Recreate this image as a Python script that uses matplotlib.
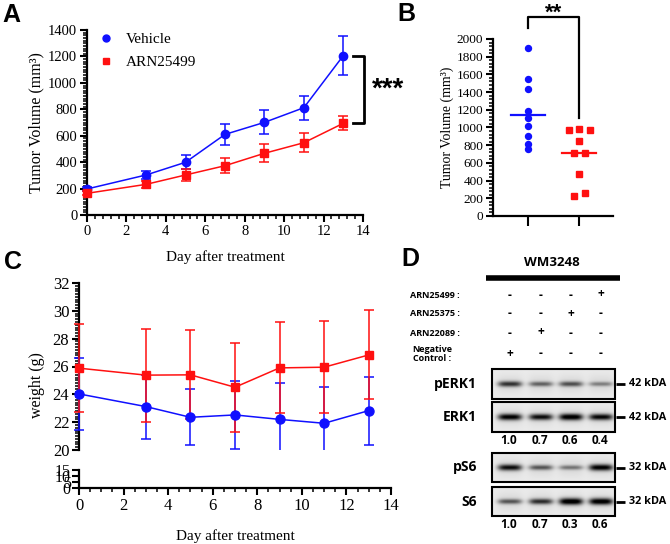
import numpy as np
import matplotlib
matplotlib.use("Agg")
import matplotlib.pyplot as plt
from matplotlib.ticker import MultipleLocator
from matplotlib.lines import Line2D
from matplotlib.patches import Rectangle

# ---- data ----
# A: tumour volume over time
days = [0, 3, 5, 7, 9, 11, 13]
vehicle_vol = [197, 303, 399, 610, 701, 812, 1206]
vehicle_vol_err = [12, 32, 53, 80, 90, 92, 145]
arn_vol = [164, 232, 303, 373, 467, 547, 694]
arn_vol_err = [15, 25, 45, 56, 67, 70, 53]

# B: end-point volume per mouse
vehicle_end = [1902, 1548, 1431, 1186, 1104, 1021, 904, 810, 753]
arn_end = [972, 979, 972, 847, 708, 708, 475, 230, 256]
arn_end_jitter = [-0.2, 0, 0.215, 0, -0.105, 0.11, 0, -0.105, 0.11]
group_centre = [1145, 708]

# C: body weight
vehicle_wt = [24.03, 23.12, 22.35, 22.52, 22.2, 21.92, 22.83]
vehicle_wt_err = [2.6, 2.3, 2.0, 2.45, 2.6, 2.6, 2.45]
arn_wt = [25.88, 25.38, 25.4, 24.51, 25.9, 25.95, 26.83]
arn_wt_err = [3.18, 3.35, 3.2, 3.2, 3.27, 3.3, 3.2]

# D: western blot
cell_line = "WM3248"
treat_rows = ["ARN25499 :", "ARN25375 :", "ARN22089 :", "Negative\nControl :"]
treat_signs = [["-", "-", "-", "+"],
               ["-", "-", "+", "-"],
               ["-", "+", "-", "-"],
               ["+", "-", "-", "-"]]
blot_names = ["pERK1", "ERK1", "pS6", "S6"]
blot_sizes = ["42 kDA", "42 kDA", "32 kDA", "32 kDA"]
perk_bands = [0.70, 0.50, 0.58, 0.38]
erk_bands = [0.92, 0.85, 0.97, 0.88]
ps6_bands = [0.85, 0.55, 0.42, 0.92]
s6_bands = [0.55, 0.72, 1.0, 0.97]
erk_ratio = ["1.0", "0.7", "0.6", "0.4"]
s6_ratio = ["1.0", "0.7", "0.3", "0.6"]

BLUE = "#1010ff"
RED = "#ff1010"
W, H = 670, 544

plt.rcParams['font.family'] = ['Liberation Serif', 'DejaVu Sans']


def px_rect(left, top, right, bottom):
    return [left / W, 1 - bottom / H, (right - left) / W, (bottom - top) / H]


def style_axis(ax, size):
    for side in ["top", "right"]:
        ax.spines[side].set_visible(False)
    for side in ["left", "bottom"]:
        ax.spines[side].set_linewidth(1.6)
    ax.tick_params(which="major", direction="out", length=5, width=1.5, labelsize=size, pad=2)
    ax.tick_params(which="minor", direction="out", length=3, width=1.1)


def errbars(ax, x, y, err, color, clip_rect=None):
    eb = ax.errorbar(x, y, yerr=err, fmt="none", ecolor=color, elinewidth=1.1,
                     capsize=3.5, capthick=1.1, clip_on=clip_rect is not None, zorder=3)
    if clip_rect is not None:
        for art in list(eb.lines[1]) + list(eb.lines[2]):
            art.set_clip_path(clip_rect)


fig = plt.figure(figsize=(W / 100, H / 100), dpi=100)

# overlay for letters and the blot
ov = fig.add_axes([0, 0, 1, 1])
ov.set_axis_off()

# ---- panel A ----
axA = fig.add_axes(px_rect(87, 30, 363, 215))
style_axis(axA, 10.5)
errbars(axA, days, vehicle_vol, vehicle_vol_err, BLUE)
errbars(axA, days, arn_vol, arn_vol_err, RED)
axA.plot(days, vehicle_vol, "-o", color=BLUE, ms=6, lw=1.1, clip_on=False, zorder=4)
axA.plot(days, arn_vol, "-s", color=RED, ms=5.5, lw=1.1, clip_on=False, zorder=4)
axA.set_xlim(0, 14)
axA.set_ylim(0, 1400)
axA.xaxis.set_major_locator(MultipleLocator(2))
axA.xaxis.set_minor_locator(MultipleLocator(0.4))
axA.yaxis.set_major_locator(MultipleLocator(200))
axA.yaxis.set_minor_locator(MultipleLocator(20))
axA.set_xlabel("Day after treatment", fontsize=11, labelpad=9)
axA.set_ylabel("Tumor Volume (mm³)", fontsize=11.5, labelpad=3)
handles = [Line2D([], [], marker="o", ls="none", color=BLUE, ms=5),
           Line2D([], [], marker="s", ls="none", color=RED, ms=5)]
axA.legend(handles, ["Vehicle", "ARN25499"], loc="upper left", bbox_to_anchor=(-0.015, 1.06),
           frameon=False, fontsize=11, handlelength=1.2, handletextpad=0.7, labelspacing=0.6)
axA.plot([13.5, 14.05, 14.05, 13.5], [vehicle_vol[-1], vehicle_vol[-1], arn_vol[-1], arn_vol[-1]],
         color="black", lw=2, clip_on=False)
axA.text(15.25, (vehicle_vol[-1] + arn_vol[-1]) / 2, "***", fontsize=20, fontweight="bold",
         family="Liberation Sans", ha="center", va="center")

# ---- panel B ----
axB = fig.add_axes(px_rect(493, 39, 613, 216))
style_axis(axB, 9.5)
axB.plot([1] * len(vehicle_end), vehicle_end, "o", color=BLUE, ms=4.3, clip_on=False)
axB.plot([2 + j for j in arn_end_jitter], arn_end, "s", color=RED, ms=4.3, clip_on=False)
axB.plot([0.66, 1.34], [group_centre[0]] * 2, color=BLUE, lw=1.6)
axB.plot([1.66, 2.34], [group_centre[1]] * 2, color=RED, lw=1.6)
axB.set_xlim(0.31, 2.67)
axB.set_ylim(0, 2000)
axB.set_xticks([1, 2])
axB.set_xticklabels([])
axB.tick_params(axis="x", length=7)
axB.yaxis.set_major_locator(MultipleLocator(200))
axB.yaxis.set_minor_locator(MultipleLocator(40))
axB.set_ylabel("Tumor Volume (mm³)", fontsize=10, labelpad=2)
axB.plot([1, 1, 2, 2], [2124, 2249, 2249, 1107], color="black", lw=1.6, clip_on=False)
axB.text(1.5, 2290, "**", fontsize=16, fontweight="bold", family="Liberation Sans",
         ha="center", va="center")

# ---- panel C (broken y axis) ----
axC = fig.add_axes(px_rect(79, 283, 391, 450))
axC2 = fig.add_axes(px_rect(79, 470, 391, 488))
for ax in (axC, axC2):
    style_axis(ax, 12)
axC.spines["bottom"].set_visible(False)
axC.tick_params(axis="x", which="both", bottom=False, labelbottom=False)
clip = Rectangle((-0.2, 0), 1.4, 1.3, transform=axC.transAxes)
errbars(axC, days, vehicle_wt, vehicle_wt_err, BLUE, clip)
errbars(axC, days, arn_wt, arn_wt_err, RED, clip)
axC.plot(days, arn_wt, "-s", color=RED, ms=6, lw=1.1, clip_on=False, zorder=4)
axC.plot(days, vehicle_wt, "-o", color=BLUE, ms=6.5, lw=1.1, clip_on=False, zorder=5)
axC.set_xlim(0, 14)
axC.set_ylim(20, 32)
axC.yaxis.set_major_locator(MultipleLocator(2))
axC.yaxis.set_minor_locator(MultipleLocator(0.2))
axC.set_ylabel("weight (g)", fontsize=11.5)
axC.yaxis.set_label_coords(-0.11, 0.39)
axC2.set_xlim(0, 14)
axC2.set_ylim(0, 15)
axC2.set_yticks([0, 5, 10, 15])
axC2.xaxis.set_major_locator(MultipleLocator(2))
axC2.xaxis.set_minor_locator(MultipleLocator(0.5))
axC2.set_xlabel("Day after treatment", fontsize=11, labelpad=11)
axC2.tick_params(axis="y", labelsize=11.5, pad=1)

# ---- panel D: blot ----
lane_x = [510, 541, 571, 601]
ov.text(552, 262, cell_line, family="Open Sans", fontweight="bold", fontsize=9.5,
        ha="center", va="center")
ov.plot([486, 620], [278, 278], color="black", lw=4, solid_capstyle="butt")
row_y = [295, 314, 333, 354]
for lab, signs, ry in zip(treat_rows, treat_signs, row_y):
    if "\n" in lab:
        ov.text(432, ry, lab, family="Open Sans", fontweight="bold", fontsize=6.5,
                ha="center", va="center", multialignment="center", linespacing=1.0)
    else:
        ov.text(460, ry, lab, family="Open Sans", fontweight="bold", fontsize=6.5,
                ha="right", va="center")
    for lx, s in zip(lane_x, signs):
        ov.text(lx, ry - (1 if s == "+" else 0), s, family="Open Sans", fontweight="bold",
                fontsize=8.5, ha="center", va="center")


def blot_strip(strengths, x0, x1, y0, y1, band_y, res=4):
    w = int((x1 - x0) * res)
    h = int((y1 - y0) * res)
    X, Y = np.meshgrid(x0 + (np.arange(w) + 0.5) / res, y0 + (np.arange(h) + 0.5) / res)
    img = np.full((h, w), 0.92)
    for lx, s in zip(lane_x, strengths):
        shape_x = np.exp(-((X - lx) / 12.0) ** 4)
        core = np.exp(-((Y - band_y) / (1.5 + 1.8 * s)) ** 2)
        halo = np.exp(-((Y - band_y) / 9.0) ** 2) * np.exp(-((X - lx) / 13.0) ** 4)
        img -= 0.97 * s * shape_x * core + 0.07 * halo
    return np.clip(img, 0, 1)


boxes = [(369, 399), (402, 432), (453, 482), (487, 516)]
for name, size, bands, (y0, y1) in zip(blot_names, blot_sizes,
                                         [perk_bands, erk_bands, ps6_bands, s6_bands], boxes):
    by = (y0 + y1) / 2
    img = blot_strip(bands, 492, 615, y0, y1, by)
    ov.imshow(img, cmap="gray", vmin=0, vmax=1, extent=(492, 615, y1, y0),
              aspect="auto", interpolation="bilinear")
    ov.add_patch(Rectangle((492, y0), 123, y1 - y0, fill=False, ec="black", lw=1.5))
    ov.text(477, by, name, family="Open Sans", fontweight="bold", fontsize=10,
            ha="right", va="center")
    ov.plot([616, 625], [by, by], color="black", lw=2, solid_capstyle="butt")
    ov.text(629, by, size, family="Open Sans", fontweight="bold", fontsize=7.8,
            ha="left", va="center")

for ratios, ry in zip([erk_ratio, s6_ratio], [441, 525]):
    for lx, r in zip(lane_x, ratios):
        ov.text(lx - 1, ry, r, family="Open Sans", fontweight="bold", fontsize=8.5,
                ha="center", va="center")

# panel letters
for letter, lx, ly in [("A", 11, 15), ("B", 406, 14), ("C", 13, 262), ("D", 410, 259)]:
    ov.text(lx, ly, letter, family="Liberation Sans", fontweight="bold", fontsize=18,
            ha="center", va="center")

ov.set_xlim(0, W)
ov.set_ylim(H, 0)

fig.savefig("out.png", dpi=100)
